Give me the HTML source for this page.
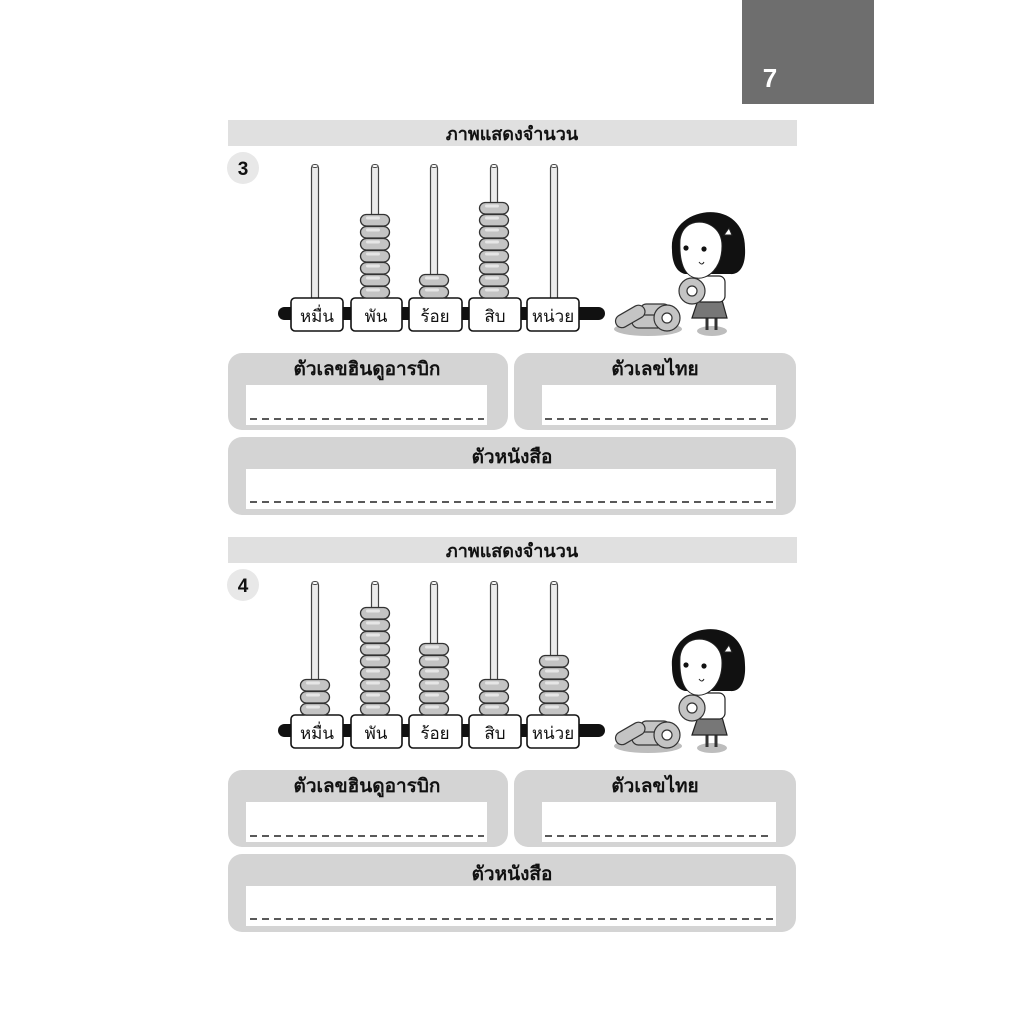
<!DOCTYPE html>
<html><head><meta charset="utf-8"><style>
body{margin:0;background:#fff;width:1024px;height:1024px;overflow:hidden}
svg{display:block}
text{font-family:"Liberation Sans","DejaVu Sans",sans-serif}
</style></head><body>
<svg width="1024" height="1024" viewBox="0 0 1024 1024" xmlns="http://www.w3.org/2000/svg">
<defs>
<g id="bead"><rect x="-14.5" y="0.5" width="29" height="11.5" rx="5.8" fill="#c4c4c4" stroke="#333" stroke-width="1.3"/><rect x="-9" y="2.5" width="14" height="3" rx="1.5" fill="#e6e6e6"/></g>
<g id="rod"><rect x="-3.5" y="165" width="7" height="136" rx="3" fill="#ececec" stroke="#444" stroke-width="1.2"/><ellipse cx="0" cy="166" rx="3" ry="1.5" fill="#fff" stroke="#444" stroke-width="1"/></g>
<g id="common">
  <rect x="228" y="120" width="569" height="26" fill="#e0e0e0"/>
  <text x="512" y="140" font-size="18" font-weight="bold" text-anchor="middle" fill="#111">ภาพแสดงจำนวน</text>
  <circle cx="243" cy="168" r="16" fill="#e8e8e8"/>
  <use href="#rod" x="315"/><use href="#rod" x="375"/><use href="#rod" x="434"/><use href="#rod" x="494"/><use href="#rod" x="554"/>
  <rect x="278" y="307" width="327" height="13" rx="6.5" fill="#111"/>
  <g fill="#fff" stroke="#111" stroke-width="1.6">
    <rect x="291" y="298" width="52" height="33" rx="4"/>
    <rect x="351" y="298" width="51" height="33" rx="4"/>
    <rect x="409" y="298" width="53" height="33" rx="4"/>
    <rect x="469" y="298" width="52" height="33" rx="4"/>
    <rect x="527" y="298" width="52" height="33" rx="4"/>
  </g>
  <g font-size="17" text-anchor="middle" fill="#111">
    <text x="317" y="322">หมื่น</text><text x="376" y="322">พัน</text><text x="435" y="322">ร้อย</text><text x="495" y="322">สิบ</text><text x="553" y="322">หน่วย</text>
  </g>
  <ellipse cx="648" cy="329" rx="34" ry="7" fill="#bdbdbd"/>
  <g fill="#c4c4c4" stroke="#333" stroke-width="1.2">
    <rect x="640" y="304" width="30" height="13" rx="6.5"/>
    <rect x="632" y="315" width="32" height="13" rx="6.5"/>
    <rect x="614" y="310" width="32" height="13" rx="6.5" transform="rotate(-30 630 316)"/>
    <ellipse cx="667" cy="318" rx="13" ry="13"/>
  </g>
  <ellipse cx="667" cy="318" rx="5" ry="5" fill="#fff" stroke="#333" stroke-width="1.2"/>
  <ellipse cx="712" cy="331" rx="15" ry="5" fill="#bdbdbd"/>
  <path d="M707 318 L707 330 M716 318 L716 330" stroke="#333" stroke-width="3"/>
  <path d="M692 318 L698 300 L722 300 L727 318 Z" fill="#777" stroke="#222" stroke-width="1.2"/>
  <rect x="695" y="276" width="30" height="26" rx="6" fill="#fff" stroke="#222" stroke-width="1.2"/>
  <path d="M672 250 C668 205 745 195 745 248 C746 265 740 275 730 274 L685 274 C676 272 672 262 672 250 Z" fill="#111"/>
  <path d="M680 240 C682 222 700 218 712 226 C718 230 722 236 722 246 C722 268 708 280 696 278 C684 276 679 262 680 240 Z" fill="#fff" stroke="#222" stroke-width="1"/>
  <circle cx="686" cy="248" r="2.6" fill="#111"/><circle cx="704" cy="249" r="2.6" fill="#111"/>
  <path d="M699 262 q3 4 5 0" fill="#fff" stroke="#222" stroke-width="1"/>
  <path d="M724 235 l5 -7 l3 7 z" fill="#fff" stroke="#222"/>
  <ellipse cx="692" cy="291" rx="13" ry="13" fill="#c4c4c4" stroke="#333" stroke-width="1.2"/>
  <ellipse cx="692" cy="291" rx="5" ry="5" fill="#fff" stroke="#333" stroke-width="1.2"/>
  <rect x="228" y="353" width="280" height="77" rx="14" fill="#d4d4d4"/>
  <rect x="514" y="353" width="282" height="77" rx="14" fill="#d4d4d4"/>
  <rect x="228" y="437" width="568" height="78" rx="14" fill="#d4d4d4"/>
  <rect x="246" y="385" width="241" height="40" fill="#fff"/>
  <rect x="542" y="385" width="234" height="40" fill="#fff"/>
  <rect x="246" y="469" width="530" height="40" fill="#fff"/>
  <g stroke="#222" stroke-width="1.6" stroke-dasharray="7,5">
    <line x1="250" y1="419" x2="484" y2="419"/>
    <line x1="545" y1="419" x2="773" y2="419"/>
    <line x1="250" y1="502" x2="773" y2="502"/>
  </g>
  <g font-size="19" font-weight="bold" text-anchor="middle" fill="#111">
    <text x="367" y="375">ตัวเลขฮินดูอารบิก</text>
    <text x="655" y="375">ตัวเลขไทย</text>
    <text x="512" y="463">ตัวหนังสือ</text>
  </g>
</g>
</defs>

<rect x="742" y="0" width="132" height="104" fill="#6e6e6e"/>
<text x="770" y="87" font-size="26" font-weight="bold" fill="#fff" text-anchor="middle">7</text>

<use href="#common"/>
<text x="243" y="175" font-size="19" font-weight="bold" text-anchor="middle" fill="#111">3</text>
<g>
  <use href="#bead" x="375" y="286"/><use href="#bead" x="375" y="274"/><use href="#bead" x="375" y="262"/><use href="#bead" x="375" y="250"/><use href="#bead" x="375" y="238"/><use href="#bead" x="375" y="226"/><use href="#bead" x="375" y="214"/>
  <use href="#bead" x="434" y="286"/><use href="#bead" x="434" y="274"/>
  <use href="#bead" x="494" y="286"/><use href="#bead" x="494" y="274"/><use href="#bead" x="494" y="262"/><use href="#bead" x="494" y="250"/><use href="#bead" x="494" y="238"/><use href="#bead" x="494" y="226"/><use href="#bead" x="494" y="214"/><use href="#bead" x="494" y="202"/>
</g>

<g transform="translate(0,417)">
  <use href="#common"/>
  <text x="243" y="175" font-size="19" font-weight="bold" text-anchor="middle" fill="#111">4</text>
  <use href="#bead" x="315" y="286"/><use href="#bead" x="315" y="274"/><use href="#bead" x="315" y="262"/>
  <use href="#bead" x="375" y="286"/><use href="#bead" x="375" y="274"/><use href="#bead" x="375" y="262"/><use href="#bead" x="375" y="250"/><use href="#bead" x="375" y="238"/><use href="#bead" x="375" y="226"/><use href="#bead" x="375" y="214"/><use href="#bead" x="375" y="202"/><use href="#bead" x="375" y="190"/>
  <use href="#bead" x="434" y="286"/><use href="#bead" x="434" y="274"/><use href="#bead" x="434" y="262"/><use href="#bead" x="434" y="250"/><use href="#bead" x="434" y="238"/><use href="#bead" x="434" y="226"/>
  <use href="#bead" x="494" y="286"/><use href="#bead" x="494" y="274"/><use href="#bead" x="494" y="262"/>
  <use href="#bead" x="554" y="286"/><use href="#bead" x="554" y="274"/><use href="#bead" x="554" y="262"/><use href="#bead" x="554" y="250"/><use href="#bead" x="554" y="238"/>
</g>
</svg>
</body></html>
